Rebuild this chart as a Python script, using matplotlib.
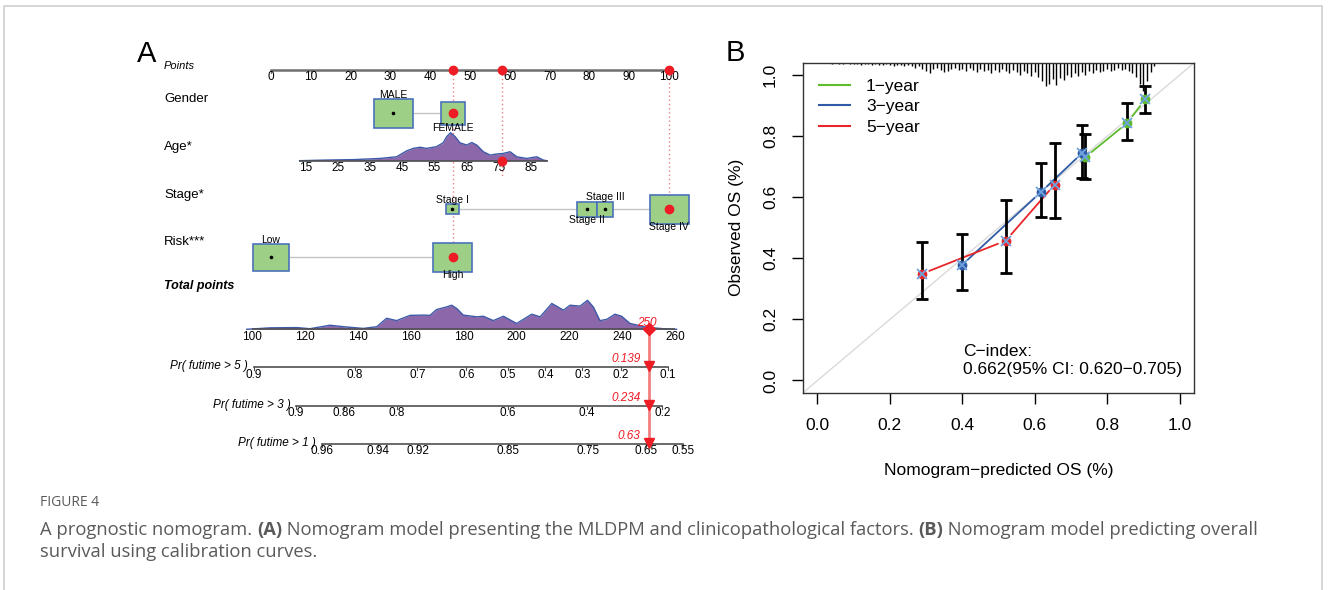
import matplotlib
matplotlib.use("Agg")
import matplotlib.pyplot as plt
from matplotlib.patches import Rectangle
from matplotlib.transforms import blended_transform_factory

W, H = 1328, 590
plt.rcParams["font.family"] = ["Liberation Sans", "DejaVu Sans"]

# ---------------- panel A: nomogram (values in nomogram points) ----------------
point_ticks = list(range(0, 101, 10))

gender_names = ["MALE", "FEMALE"]
gender_pts = [30.7, 45.7]

age_ticks = [15, 25, 35, 45, 55, 65, 75, 85]
age_pts_at_15 = 8.8
age_pts_at_85 = 65.3
age_kde_x = [13, 20, 30, 38, 43.2, 46.3, 48.4, 50.5, 52.5, 55.6, 57.7, 58.8, 60, 61.4,
             62.9, 65, 66.6, 68.1, 70.2, 72.3, 74.4, 76.4, 78.5, 80.6, 83.7, 86.8, 88.9, 90]
age_kde_y = [0, .02, .04, .08, .14, .35, .44, .48, .44, .50, .64, .86, 1.0, .86,
             .64, .56, .65, .56, .32, .20, .24, .26, .32, .14, .08, .14, .02, 0]

stage_names = ["Stage I", "Stage II", "Stage III", "Stage IV"]
stage_pts = [45.5, 79.3, 83.9, 100.0]

risk_names = ["Low", "High"]
risk_pts = [0.0, 45.7]

# selected patient: FEMALE, age ~77, Stage IV, High risk
sel_pts = [45.7, 58.0, 100.0, 45.7]
sel_total = 250

total_ticks = list(range(100, 261, 20))
total_kde_x = [98, 106.8, 116.9, 121.9, 129.5, 134.5, 142.1, 147.2, 150.9, 154.7, 159.8,
               164.8, 167.3, 169.8, 173.6, 175.5, 177.4, 179.9, 185, 187.5, 191.3, 195.1,
               200.1, 205.8, 209, 213.4, 217.8, 220.3, 224.1, 226.9, 229.1, 231.6, 234.1,
               237.3, 239.8, 243, 249.3, 255.6, 260.6]
total_kde_y = [0, .05, .06, .02, .14, .09, .03, .09, .38, .30, .48, .49, .48, .68, .77,
               .83, .72, .49, .43, .45, .30, .45, .20, .52, .43, .89, .66, .83, .80, 1.0,
               .77, .30, .34, .52, .45, .20, .07, .02, 0]

pr_names = ["Pr( futime > 5 )", "Pr( futime > 3 )", "Pr( futime > 1 )"]
pr_labels = [["0.9", "0.8", "0.7", "0.6", "0.5", "0.4", "0.3", "0.2", "0.1"],
             ["0.9", "0.86", "0.8", "0.6", "0.4", "0.2"],
             ["0.96", "0.94", "0.92", "0.85", "0.75", "0.65", "0.55"]]
pr_at = [[100.7, 138.9, 162.6, 181.1, 196.8, 211.0, 224.9, 239.6, 257.4],
         [116.7, 134.8, 154.7, 196.8, 226.7, 255.2],
         [126.4, 147.7, 162.6, 196.8, 227.0, 249.0, 263.2]]
pr_pred = ["0.139", "0.234", "0.63"]

# ---------------- panel B: calibration ----------------
cal_names = ["1\u2212year", "3\u2212year", "5\u2212year"]
cal_x = [[0.739, 0.856, 0.905], [0.398, 0.617, 0.732], [0.2875, 0.520, 0.655]]
cal_y = [[0.731, 0.844, 0.921], [0.377, 0.617, 0.746], [0.349, 0.458, 0.642]]
cal_lo = [[0.661, 0.789, 0.877], [0.296, 0.535, 0.663], [0.266, 0.353, 0.532]]
cal_hi = [[0.809, 0.908, 0.965], [0.479, 0.712, 0.838], [0.455, 0.592, 0.778]]
rug_x = [round(0.04 + 0.01 * i, 2) for i in range(90)]
rug_n = [1, 0, 1, 1, 0, 1, 1, 1, 2, 1, 1, 2, 1, 2, 2, 1, 2, 3, 2, 2, 3, 2, 3, 4, 3, 5, 7, 9,
         5, 4, 6, 8, 7, 5, 4, 6, 5, 7, 4, 6, 8, 5, 7, 6, 9, 6, 8, 5, 7, 9, 6, 8, 10, 7, 9, 11,
         8, 12, 16, 20, 18, 14, 19, 13, 15, 10, 12, 9, 11, 8, 10, 7, 9, 6, 8, 7, 5, 7, 6, 4,
         6, 5, 7, 9, 12, 18, 24, 16, 8, 3]
c_index = "C\u2212index:\n0.662(95% CI: 0.620\u22120.705)"

# ---------------- styles ----------------
BOX_FILL, BOX_EDGE = "#9DCF86", "#4A72B8"
KDE_FILL, KDE_EDGE = "#8C67A9", "#3C5AA8"
RED, RED_LINE = "#EE1C25", "#F28080"
AX_GREY = "#6E6E6E"
CAL_COL = ["#5DBB2E", "#2F5BA7", "#E8262A"]
PX_PER_PT = 3.98  # nomogram points -> pixels


def px_axes(x0, y0, x1, y1):
    return fig.add_axes([x0 / W, 1 - y1 / H, (x1 - x0) / W, (y1 - y0) / H])


fig = plt.figure(figsize=(W / 100, H / 100), dpi=100)

# ===== panel A, upper part (x = points, y = pixel rows) =====
ax = px_axes(271, 30, 669, 290)
ax.set_xlim(0, 100)
ax.set_ylim(290, 30)
ax.axis("off")
lab = blended_transform_factory(fig.transFigure, ax.transData)

y_pts, y_gen, y_age, y_stg, y_rsk = 70, 113, 160.7, 209, 257.3

fig.text(147 / W, 1 - 54 / H, "A", fontsize=21, ha="center", va="center")
ax.text(164 / W, 66, "Points", transform=lab, fontsize=8, style="italic", va="center")
ax.text(164 / W, 99, "Gender", transform=lab, fontsize=9.5, va="center")
ax.text(164 / W, 147, "Age*", transform=lab, fontsize=9.5, va="center")
ax.text(164 / W, 195, "Stage*", transform=lab, fontsize=9.5, va="center")
ax.text(164 / W, 242, "Risk***", transform=lab, fontsize=9.5, va="center")
ax.text(164 / W, 286, "Total points", transform=lab, fontsize=9, style="italic",
        weight="bold", va="center")

# points scale
ax.plot([point_ticks[0], point_ticks[-1]], [y_pts, y_pts], color=AX_GREY, lw=1.8,
        clip_on=False)
for t in point_ticks:
    ax.plot([t, t], [y_pts, y_pts + 3], color=AX_GREY, lw=0.8, clip_on=False)
    ax.text(t, y_pts + 0.8, str(t), fontsize=8.5, ha="center", va="top")

# red guides
ax.plot([sel_pts[0]] * 2, [y_pts, y_rsk], color=RED_LINE, lw=1, ls=(0, (1, 2)))
ax.plot([sel_pts[1]] * 2, [y_pts, y_age + 17], color=RED_LINE, lw=1, ls=(0, (1, 2)))
ax.plot([sel_pts[2]] * 2, [y_pts, y_stg], color=RED_LINE, lw=1, ls=(0, (1, 2)),
        clip_on=False)


def boxes(pts, names, y, sizes, sides, selected):
    ax.plot([min(pts), max(pts)], [y, y], color="#C4C4C4", lw=1, zorder=1, clip_on=False)
    for p, n, (w, h), side in zip(pts, names, sizes, sides):
        ax.add_patch(Rectangle((p - w / 2 / PX_PER_PT, y - h / 2), w / PX_PER_PT, h,
                               facecolor=BOX_FILL, edgecolor=BOX_EDGE, lw=1.2, zorder=2,
                               clip_on=False))
        ty = y - h / 2 - 4 if side == "above" else y + h / 2 + 3.5
        ax.text(p, ty, n, fontsize=7.5, ha="center", va="center", zorder=4)
        if p == selected:
            ax.plot(p, y, "o", color=RED, ms=6, zorder=5, clip_on=False)
        else:
            ax.plot(p, y, "o", color="black", ms=1.6, zorder=5, clip_on=False)


boxes(gender_pts, gender_names, y_gen, [(39, 29), (24, 23)], ["above", "below"], sel_pts[0])
boxes(stage_pts, stage_names, y_stg, [(13, 10), (20, 15), (16.6, 15), (39, 29)],
      ["above", "below", "above", "below"], sel_pts[2])
boxes(risk_pts, risk_names, y_rsk, [(36, 27), (39, 29)], ["above", "below"], sel_pts[3])

# age scale with density
span = (age_pts_at_85 - age_pts_at_15) / (85 - 15)
age_to_pts = lambda a: age_pts_at_15 + (a - 15) * span
kx = [age_to_pts(a) for a in age_kde_x]
ky = [y_age - 28 * v for v in age_kde_y]
ax.fill_between(kx, ky, y_age, color=KDE_FILL, lw=0, zorder=2)
ax.plot(kx, ky, color=KDE_EDGE, lw=1, zorder=3)
ax.plot([kx[0], kx[-1]], [y_age, y_age], color="#505050", lw=1.2, zorder=3)
for a in age_ticks:
    ax.text(age_to_pts(a), y_age + 1.5, str(a), fontsize=8.5, ha="center", va="top")

for p in sorted(set(sel_pts)):
    ax.plot(p, y_pts, "o", color=RED, ms=6, zorder=5, clip_on=False)
ax.plot(sel_pts[1], y_age, "o", color=RED, ms=6, zorder=5)

# ===== panel A, lower part (x = total points) =====
bx = px_axes(252, 290, 675, 470)
bx.set_xlim(100, 260)
bx.set_ylim(470, 290)
bx.axis("off")

y_tot = 329.3
tx = total_kde_x
ty = [y_tot - 29 * v for v in total_kde_y]
bx.fill_between(tx, ty, y_tot, color=KDE_FILL, lw=0, zorder=2, clip_on=False)
bx.plot(tx, ty, color=KDE_EDGE, lw=1, zorder=3, clip_on=False)
bx.plot([total_ticks[0], total_ticks[-1]], [y_tot, y_tot], color="#505050", lw=1.2,
        zorder=3)
for t in total_ticks:
    bx.text(t, y_tot + 1.2, str(t), fontsize=8.5, ha="center", va="top")

pr_y = [367.3, 406.3, 444.3]
bx.plot([sel_total, sel_total], [y_tot, pr_y[-1]], color=RED_LINE, lw=2, zorder=4)
bx.plot(sel_total, y_tot, "D", color=RED, ms=6, zorder=5)
bx.text(sel_total - 0.5, y_tot - 6, str(sel_total), color=RED, fontsize=8.5,
        style="italic", ha="center", va="center", zorder=6)

for name, labs, at, py, pv in zip(pr_names, pr_labels, pr_at, pr_y, pr_pred):
    bx.plot([at[0], at[-1]], [py, py], color="#505050", lw=1.2, clip_on=False)
    for l, a in zip(labs, at):
        bx.plot([a, a], [py, py + 3], color="#505050", lw=0.8, clip_on=False)
        bx.text(a, py + 1.2, l, fontsize=8.5, ha="center", va="top", clip_on=False)
    bx.text(at[0] - 2.2, py - 1.5, name, fontsize=8.5, style="italic", ha="right",
            va="center")
    bx.plot(sel_total, py - 1.5, "v", color=RED, ms=7, zorder=5)
    bx.text(sel_total - 3, py - 8, pv, color=RED, fontsize=8.5, style="italic",
            ha="right", va="center", zorder=6)

# ===== panel B =====
fig.text(735 / W, 1 - 53 / H, "B", fontsize=21, ha="center", va="center")
cx = px_axes(803, 63, 1194, 392.7)
cx.set_xlim(-0.04, 1.04)
cx.set_ylim(-0.04, 1.04)
cx.plot([-0.04, 1.04], [-0.04, 1.04], color="#DADADA", lw=1, zorder=1)

for xs, ys, lo, hi, col, nm in zip(cal_x, cal_y, cal_lo, cal_hi, CAL_COL, cal_names):
    cx.errorbar(xs, ys, yerr=[[y - l for y, l in zip(ys, lo)], [h - y for y, h in zip(ys, hi)]],
                fmt="none", ecolor="black", elinewidth=2, capsize=4, capthick=2, zorder=3)
    for i in range(len(xs) - 1):
        cx.annotate("", xy=(xs[i + 1], ys[i + 1]), xytext=(xs[i], ys[i]),
                    arrowprops=dict(arrowstyle="-", color=col, lw=1.3, shrinkA=6,
                                    shrinkB=6), zorder=2)
    cx.plot([], [], color=col, lw=1.5, label=nm)
for xs, ys, col in zip(cal_x, cal_y, CAL_COL):
    cx.plot(xs, ys, "o", color=col, ms=6, zorder=4)
    cx.plot(xs, ys, "x", color="#6FA3DD", ms=7, mew=1.3, zorder=5)

rug_px = 304 / 1.15
top = 1.04
cx.vlines(rug_x, [top - n / rug_px for n in rug_n], top, color="black", lw=1, zorder=2)

cx.set_xticks([0, 0.2, 0.4, 0.6, 0.8, 1.0])
cx.set_yticks([0, 0.2, 0.4, 0.6, 0.8, 1.0])
cx.set_xticklabels(["0.0", "0.2", "0.4", "0.6", "0.8", "1.0"])
cx.set_yticklabels(["0.0", "0.2", "0.4", "0.6", "0.8", "1.0"], rotation=90, va="center")
cx.tick_params(labelsize=12.5, length=8, width=1, pad=10)
for s in cx.spines.values():
    s.set_linewidth(1)
    s.set_color("#333333")
cx.set_xlabel("Nomogram\u2212predicted OS (%)", fontsize=12.5, labelpad=22)
cx.set_ylabel("Observed OS (%)", fontsize=12.5, labelpad=14)
cx.legend(loc="upper left", bbox_to_anchor=(0.01, 0.99), frameon=False, fontsize=12.5,
          handlelength=1.8, handletextpad=0.9, labelspacing=0.32, borderpad=0.2)
cx.text(0.402, 0.066, c_index, fontsize=12.5, ha="left", va="center", linespacing=1.3)

# ===== caption and frame =====
fig.patches.append(Rectangle((4 / W, -0.05), 1318 / W, 1 - 6 / H + 0.05, fill=False,
                             edgecolor="#D0D0D0", lw=1.2, transform=fig.transFigure))
cap_font = dict(family=["Open Sans", "DejaVu Sans"], color="#5A5A5A")
fig.text(40 / W, 1 - 503 / H, "FIGURE 4", fontsize=10, va="center", **cap_font)
pieces = [("A prognostic nomogram. ", "normal"), ("(A)", "bold"),
          (" Nomogram model presenting the MLDPM and clinicopathological factors. ", "normal"),
          ("(B)", "bold"), (" Nomogram model predicting overall", "normal")]
renderer = fig.canvas.get_renderer()
x = 40
for s, wgt in pieces:
    t = fig.text(x / W, 1 - 530 / H, s, fontsize=13.2, weight=wgt, va="center", **cap_font)
    x = t.get_window_extent(renderer).x1
fig.text(40 / W, 1 - 552 / H, "survival using calibration curves.", fontsize=13.2,
         va="center", **cap_font)

fig.savefig("out.png", dpi=100)
